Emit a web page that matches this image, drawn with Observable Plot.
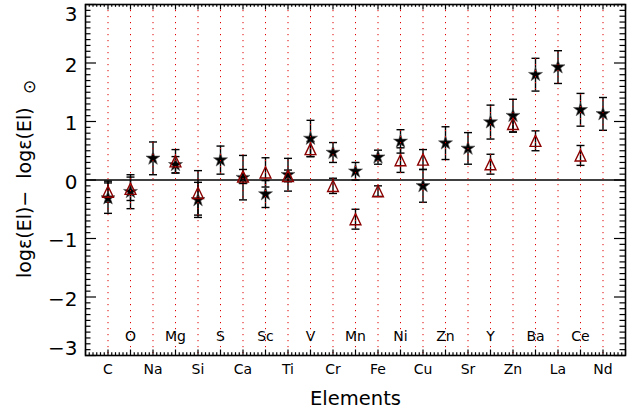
<!DOCTYPE html>
<html>
<head>
<meta charset="utf-8">
<script src="https://cdn.jsdelivr.net/npm/d3@7"></script>
<script src="https://cdn.jsdelivr.net/npm/@observablehq/plot@0.6"></script>
<style>
  body { margin: 0; background: #fff; }
  svg { display: block; }
</style>
</head>
<body>
<div id="chart"></div>
<script>
// Abundances relative to solar, one slot per element along the x axis
const elements = ["C", "O", "Na", "Mg", "Si", "S", "Ca", "Sc", "Ti", "V", "Cr", "Mn",
                  "Fe", "Ni", "Cu", "Zn", "Sr", "Y", "Zn", "Ba", "La", "Ce", "Nd"];
const starValues = [-0.31, -0.20, 0.37, 0.26, -0.34, 0.34, 0.04, -0.24, 0.09, 0.71, 0.47, 0.15,
                    0.39, 0.66, -0.10, 0.63, 0.54, 0.99, 1.10, 1.80, 1.93, 1.20, 1.13];
const starErrors = [0.26, 0.29, 0.28, 0.14, 0.30, 0.24, 0.38, 0.23, 0.28, 0.31, 0.17, 0.15,
                    0.12, 0.20, 0.28, 0.28, 0.27, 0.29, 0.28, 0.28, 0.28, 0.28, 0.28];
const triangleValues = [-0.20, -0.15, null, 0.32, -0.22, null, 0.06, 0.13, 0.07, 0.53, -0.10, -0.67,
                        -0.19, 0.34, 0.35, null, null, 0.27, 0.96, 0.67, null, 0.42, null];
const triangleErrors = [0.18, 0.20, null, 0.20, 0.38, null, 0.12, 0.25, 0.10, 0.13, 0.13, 0.17,
                        0.09, 0.21, 0.17, null, null, 0.17, 0.14, 0.17, null, 0.17, null];
const yTicks = [-3, -2, -1, 0, 1, 2, 3];

const rows = elements.map((name, i) => ({
  i, name,
  star: starValues[i], starErr: starErrors[i],
  tri: triangleValues[i], triErr: triangleErrors[i]
}));
const triRows = rows.filter(d => d.tri != null);

// Error bar end caps for both series
const caps = [
  ...rows.flatMap(d => [{i: d.i, y: d.star - d.starErr}, {i: d.i, y: d.star + d.starErr}]),
  ...triRows.flatMap(d => [{i: d.i, y: d.tri - d.triErr}, {i: d.i, y: d.tri + d.triErr}])
];

// Element names alternate between a row below the axis and a row inside the frame
const lowerLabels = rows.filter(d => d.i % 2 === 0);
const upperLabels = rows.filter(d => d.i % 2 === 1);

// Tick positions for the boxed axes
const yMajor = yTicks;
const yMinor = d3.range(-30, 31).filter(k => k % 10 !== 0).map(k => k / 10);
const xMajor = d3.range(-1, 24);
const xMinor = d3.range(-6, 139).filter(k => k % 6 !== 0).map(k => k / 6);

const capSymbol = {draw(ctx) { ctx.moveTo(-4, 0); ctx.lineTo(4, 0); }};
const triSymbol = {draw(ctx) {
  const h = 5.6, w = 5.4;
  ctx.moveTo(0, -h); ctx.lineTo(w, h); ctx.lineTo(-w, h); ctx.closePath();
}};

const W = 632, H = 417;
const mL = 85, mR = 7, mT = 4, mB = 62;
const fw = W - mL - mR, fh = H - mT - mB;
const font = "DejaVu Sans";
const minus = d => d < 0 ? "\u2212" + (-d) : String(d);

const chart = Plot.plot({
  width: W, height: H,
  marginLeft: mL, marginRight: mR, marginTop: mT, marginBottom: mB,
  style: {fontFamily: font, background: "#fff", color: "#000", overflow: "visible"},
  x: {domain: [-1, 23], axis: null},
  y: {domain: [-3, 3], axis: null},
  marks: [
    Plot.ruleY([0], {stroke: "black", strokeWidth: 1.5}),
    // error bars
    Plot.ruleX(rows, {x: "i", y1: d => d.star - d.starErr, y2: d => d.star + d.starErr, stroke: "black", strokeWidth: 1.4}),
    Plot.ruleX(triRows, {x: "i", y1: d => d.tri - d.triErr, y2: d => d.tri + d.triErr, stroke: "black", strokeWidth: 1.4}),
    Plot.dot(caps, {x: "i", y: "y", symbol: capSymbol, fill: "none", stroke: "black", strokeWidth: 1.4}),
    // measurements
    Plot.dot(rows, {x: "i", y: "star", symbol: "star", r: 4.4, fill: "black", stroke: "#555", strokeWidth: 0.6}),
    Plot.dot(triRows, {x: "i", y: "tri", symbol: triSymbol, fill: "none", stroke: "#8b0000", strokeWidth: 1.4}),
    // dotted guides through each element
    Plot.ruleX(rows, {x: "i", stroke: "#e00000", strokeWidth: 1, strokeDasharray: "1.2,4.8"}),
    // inward ticks on all four sides
    Plot.tickY(yMajor, {y: d => d, insetRight: fw - 11, stroke: "black", strokeWidth: 1.2}),
    Plot.tickY(yMinor, {y: d => d, insetRight: fw - 5.5, stroke: "black", strokeWidth: 1.2}),
    Plot.tickY(yMajor, {y: d => d, insetLeft: fw - 11, stroke: "black", strokeWidth: 1.2}),
    Plot.tickY(yMinor, {y: d => d, insetLeft: fw - 5.5, stroke: "black", strokeWidth: 1.2}),
    Plot.tickX(xMajor, {x: d => d, insetBottom: fh - 5.5, stroke: "black", strokeWidth: 1.2}),
    Plot.tickX(xMinor, {x: d => d, insetBottom: fh - 2.8, stroke: "black", strokeWidth: 1.2}),
    Plot.tickX(xMajor, {x: d => d, insetTop: fh - 5.5, stroke: "black", strokeWidth: 1.2}),
    Plot.tickX(xMinor, {x: d => d, insetTop: fh - 2.8, stroke: "black", strokeWidth: 1.2}),
    Plot.frame({stroke: "black", strokeWidth: 1.6}),
    // y tick labels (end labels pulled inside the frame)
    Plot.text(yTicks.filter(d => Math.abs(d) < 3), {y: d => d, text: minus, frameAnchor: "left", textAnchor: "end", dx: -8, dy: 2.4, fontSize: 20, fill: "black"}),
    Plot.text([3], {y: d => d, text: minus, frameAnchor: "left", textAnchor: "end", dx: -8, dy: 10, fontSize: 20, fill: "black"}),
    Plot.text([-3], {y: d => d, text: minus, frameAnchor: "left", textAnchor: "end", dx: -8, dy: -6.6, fontSize: 20, fill: "black"}),
    // element names
    Plot.text(lowerLabels, {x: "i", text: "name", frameAnchor: "bottom", dy: 18.5, fontSize: 14, fill: "black"}),
    Plot.text(upperLabels, {x: "i", text: "name", frameAnchor: "bottom", dy: -14.5, fontSize: 14, fill: "black"}),
    // axis titles
    Plot.text(["Elements"], {text: d => d, frameAnchor: "bottom", dy: 49.5, fontSize: 19.5, fill: "black"}),
    Plot.text(["log\u03b5(El)\u2212  log\u03b5(El)"], {text: d => d, frameAnchor: "left", rotate: -90, textAnchor: "start", dx: -61, dy: 98, fontSize: 19, fill: "black"}),
    Plot.text(["\u2299"], {text: d => d, frameAnchor: "left", rotate: -90, dx: -56, dy: -86, fontSize: 17, fill: "black"})
  ]
});

document.getElementById("chart").append(chart);
</script>
</body>
</html>
